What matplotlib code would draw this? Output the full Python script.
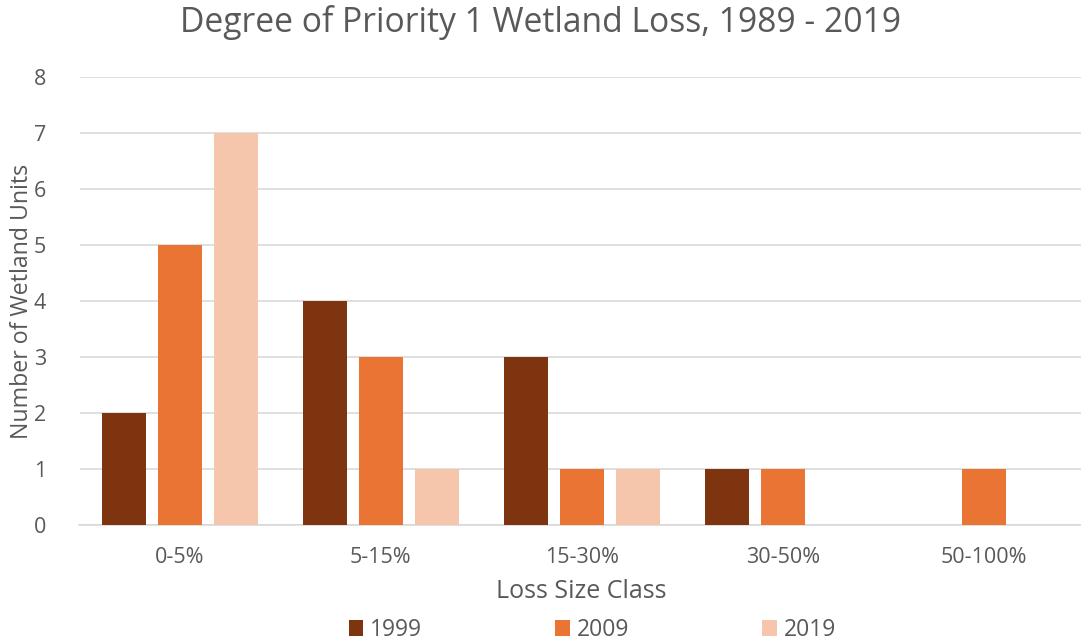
import numpy as np
import matplotlib.pyplot as plt

plt.rcParams['font.family'] = ['Open Sans', 'DejaVu Sans']

categories = ['0-5%', '5-15%', '15-30%', '30-50%', '50-100%']
years = ['1999', '2009', '2019']
v1999 = [2, 4, 3, 1, 0]
v2009 = [5, 3, 1, 1, 1]
v2019 = [7, 1, 1, 0, 0]
colors = ['#7F3410', '#E97434', '#F5C6AB']

txt = '#595959'
fig = plt.figure(figsize=(10.81, 6.42), dpi=100)
ax = fig.add_axes([79.5 / 1081, 1 - 525 / 642, (1084 - 79.5) / 1081, (525 - 77) / 642])

x = np.arange(len(categories))
w = 0.219
step = 0.278
for i, (vals, yr) in enumerate(zip([v1999, v2009, v2019], years)):
    ax.bar(x + (i - 1) * step, vals, width=w, color=colors[i], label=yr, zorder=3)

ax.set_xlim(-0.5, 4.5)
ax.set_ylim(0, 8)
ax.set_yticks(range(0, 9))
ax.set_xticks(x)
ax.set_xticklabels(categories)
ax.grid(axis='y', color='#D9D9D9', lw=1.2, zorder=0)
for s in ['top', 'right', 'left']:
    ax.spines[s].set_visible(False)
ax.spines['bottom'].set_color('#D9D9D9')
ax.spines['bottom'].set_linewidth(1.2)
ax.tick_params(length=0, labelsize=15.5, colors=txt, pad=16)
ax.tick_params(axis='y', pad=24)

ax.set_xlabel('Loss Size Class', fontsize=18, color=txt, labelpad=8)
ax.set_ylabel('Number of Wetland Units', fontsize=16.7, color=txt, labelpad=0)
fig.text(0.5, 1 - 22 / 642, 'Degree of Priority 1 Wetland Loss, 1989 - 2019',
         ha='center', va='center', fontsize=24.2, color=txt)

leg = fig.legend(loc='center', bbox_to_anchor=(0.548, 1 - 630 / 642), ncol=3,
                 frameon=False, fontsize=16.5, handlelength=0.65, handleheight=0.65,
                 handletextpad=0.3, columnspacing=5.8)
for t in leg.get_texts():
    t.set_color(txt)

fig.savefig('out.png', dpi=100)
